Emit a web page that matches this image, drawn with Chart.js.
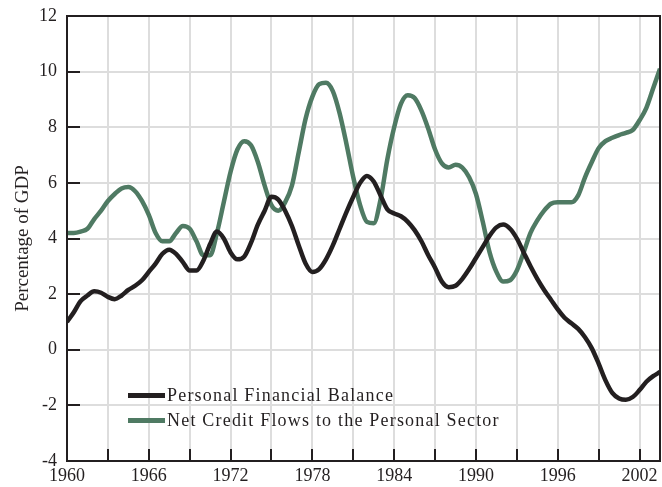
<!DOCTYPE html>
<html>
<head>
<meta charset="utf-8">
<script src="https://cdn.jsdelivr.net/npm/chart.js@4/dist/chart.umd.min.js"></script>
<style>
  html, body { margin: 0; padding: 0; background: #fff; }
  #wrap { position: relative; width: 662px; height: 487px; }
  .legend { position: absolute; left: 128px; top: 383px; font-family: "Liberation Serif", serif; font-size: 18px; letter-spacing: 1.2px; color: #231f20; }
  .legend div { display: flex; align-items: center; height: 25px; }
  .legend span.sw { display: inline-block; width: 37px; height: 4.5px; margin-right: 2px; }
</style>
</head>
<body>
<div id="wrap">
  <canvas id="c" width="662" height="487"></canvas>
  <div class="legend" id="legend"></div>
</div>
<script>
// half-year points
const years = [
  1960, 1960.5, 1961, 1961.5, 1962, 1962.5, 1963, 1963.5, 1964, 1964.5,
  1965, 1965.5, 1966, 1966.5, 1967, 1967.5, 1968, 1968.5, 1969, 1969.5,
  1970, 1970.5, 1971, 1971.5, 1972, 1972.5, 1973, 1973.5, 1974, 1974.5,
  1975, 1975.5, 1976, 1976.5, 1977, 1977.5, 1978, 1978.5, 1979, 1979.5,
  1980, 1980.5, 1981, 1981.5, 1982, 1982.5, 1983, 1983.5, 1984, 1984.5,
  1985, 1985.5, 1986, 1986.5, 1987, 1987.5, 1988, 1988.5, 1989, 1989.5,
  1990, 1990.5, 1991, 1991.5, 1992, 1992.5, 1993, 1993.5, 1994, 1994.5,
  1995, 1995.5, 1996, 1996.5, 1997, 1997.5, 1998, 1998.5, 1999, 1999.5,
  2000, 2000.5, 2001, 2001.5, 2002, 2002.5, 2003, 2003.5
];

const personalBalance = [
  1.0, 1.35, 1.75, 1.95, 2.1, 2.05, 1.9, 1.82, 1.95, 2.15,
  2.3, 2.5, 2.8, 3.1, 3.45, 3.6, 3.45, 3.15, 2.85, 2.85,
  3.2, 3.8, 4.25, 4.0, 3.5, 3.25, 3.35, 3.85, 4.5, 5.0,
  5.5, 5.4, 5.0, 4.45, 3.75, 3.1, 2.8, 2.9, 3.25, 3.75,
  4.35, 4.95, 5.5, 6.0, 6.25, 6.05, 5.55, 5.05, 4.9, 4.8,
  4.6, 4.3, 3.9, 3.4, 2.95, 2.45, 2.25, 2.3, 2.55, 2.9,
  3.3, 3.7, 4.1, 4.4, 4.5, 4.35, 4.0, 3.5, 3.0, 2.55,
  2.15, 1.8, 1.45, 1.15, 0.95, 0.75, 0.45, 0.05, -0.5, -1.1,
  -1.55, -1.75, -1.8, -1.7, -1.45, -1.15, -0.95, -0.8
];

const netCreditFlows = [
  4.2, 4.2, 4.25, 4.35, 4.7, 5.0, 5.35, 5.6, 5.8, 5.85,
  5.7, 5.35, 4.85, 4.2, 3.9, 3.9, 4.2, 4.45, 4.35, 3.9,
  3.4, 3.4, 4.2, 5.3, 6.4, 7.2, 7.5, 7.35, 6.75, 5.9,
  5.2, 5.0, 5.3, 5.9, 7.1, 8.3, 9.1, 9.55, 9.6, 9.3,
  8.5, 7.4, 6.2, 5.2, 4.6, 4.55, 5.4, 6.85, 8.0, 8.85,
  9.15, 9.05, 8.6, 7.95, 7.2, 6.7, 6.55, 6.65, 6.55, 6.2,
  5.6, 4.6, 3.5, 2.8, 2.45, 2.5, 2.85, 3.5, 4.2, 4.65,
  5.0, 5.25, 5.3, 5.3, 5.3, 5.55, 6.2, 6.75, 7.25, 7.5,
  7.62, 7.72, 7.8, 7.9, 8.25, 8.7, 9.4, 10.1
];

const tickYears = [1960, 1963, 1966, 1969, 1972, 1975, 1978, 1981, 1984, 1987, 1990, 1993, 1996, 1999, 2002];
const labelYears = [1960, 1966, 1972, 1978, 1984, 1990, 1996, 2002];

const seriesNames = ['Personal Financial Balance', 'Net Credit Flows to the Personal Sector'];
const seriesColors = ['#231f20', '#4f7a63'];

const ink = '#231f20';
const serif = '"Liberation Serif", "DejaVu Serif", serif';

// frame plus inward tick marks on the left and bottom axes
const framePlugin = {
  id: 'frame',
  afterDraw(chart) {
    const { ctx, chartArea: a, scales } = chart;
    ctx.save();
    ctx.strokeStyle = ink;
    ctx.lineWidth = 2;
    ctx.beginPath();
    scales.x.ticks.forEach(t => {
      const px = Math.round(scales.x.getPixelForValue(t.value));
      ctx.moveTo(px, a.bottom);
      ctx.lineTo(px, a.bottom - 12);
    });
    scales.y.ticks.forEach(t => {
      const py = Math.round(scales.y.getPixelForValue(t.value));
      ctx.moveTo(a.left, py);
      ctx.lineTo(a.left + 13, py);
    });
    ctx.stroke();
    ctx.strokeRect(a.left, a.top, a.right - a.left, a.bottom - a.top);
    ctx.restore();
  }
};

const toPoints = vals => vals.map((v, i) => ({ x: years[i], y: v }));

new Chart(document.getElementById('c'), {
  type: 'line',
  data: {
    datasets: [personalBalance, netCreditFlows].map((vals, i) => ({
      label: seriesNames[i],
      data: toPoints(vals),
      borderColor: seriesColors[i],
      borderWidth: 4.5,
      pointRadius: 0,
      tension: 0.4,
      cubicInterpolationMode: 'monotone',
      fill: false
    }))
  },
  options: {
    responsive: false,
    animation: false,
    layout: { padding: { left: 0, right: 2, top: 16, bottom: 0 } },
    plugins: {
      legend: { display: false },
      tooltip: { enabled: false }
    },
    scales: {
      x: {
        type: 'linear',
        min: 1960,
        max: 2003.5,
        afterBuildTicks: s => { s.ticks = tickYears.map(v => ({ value: v })); },
        afterFit: s => { s.height = 26; },
        grid: { color: '#dddddd', lineWidth: 2, drawTicks: false },
        border: { display: false },
        ticks: {
          autoSkip: false,
          maxRotation: 0,
          padding: 4,
          color: ink,
          font: { family: serif, size: 18 },
          callback: v => labelYears.includes(v) ? String(v) : ''
        }
      },
      y: {
        min: -4,
        max: 12,
        // fixed axis width; drop the label overhang so the plot top sits at the layout padding
        afterFit: s => { s.width = 67; s.paddingTop = 0; s.paddingBottom = 0; },
        grid: { color: '#dddddd', lineWidth: 2, drawTicks: false },
        border: { display: false },
        ticks: {
          stepSize: 2,
          padding: 10,
          color: ink,
          font: { family: serif, size: 18 }
        },
        title: {
          display: true,
          text: 'Percentage of GDP',
          color: ink,
          font: { family: serif, size: 19 },
          padding: { top: 12, bottom: 0 }
        }
      }
    }
  },
  plugins: [framePlugin]
});

// legend drawn inside the plot area
const legend = document.getElementById('legend');
seriesNames.forEach((name, i) => {
  const row = document.createElement('div');
  const sw = document.createElement('span');
  sw.className = 'sw';
  sw.style.background = seriesColors[i];
  row.appendChild(sw);
  row.appendChild(document.createTextNode(name));
  legend.appendChild(row);
});
</script>
</body>
</html>
